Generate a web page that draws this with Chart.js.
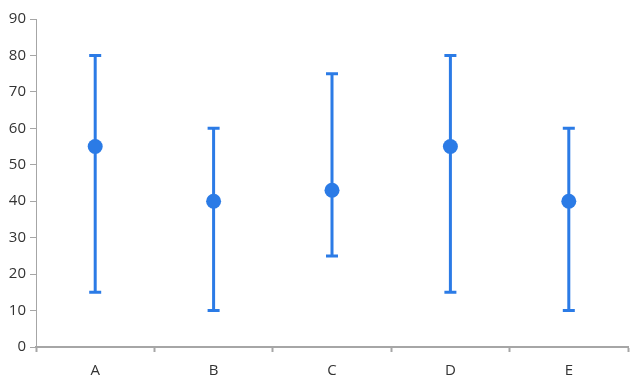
<!DOCTYPE html>
<html>
<head>
<meta charset="utf-8">
<script src="https://cdn.jsdelivr.net/npm/chart.js@4/dist/chart.umd.min.js"></script>
<style>
html,body{margin:0;padding:0;background:#fff;}
canvas{display:block;}
</style>
</head>
<body>
<canvas id="c" width="638" height="388"></canvas>
<script>
const categories = ['A', 'B', 'C', 'D', 'E'];
const values = [55, 40, 43, 55, 40];
const lows = [15, 10, 25, 15, 10];
const highs = [80, 60, 75, 80, 60];
const yTicks = [0, 10, 20, 30, 40, 50, 60, 70, 80, 90];

const BLUE = '#2b7be6';
const AXIS = '#a6a6a6';
const TEXT = '#333333';
const FONT = "'Open Sans', 'Noto Sans', sans-serif";

const errorBars = {
  id: 'errorBars',
  beforeDatasetsDraw(chart) {
    const ctx = chart.ctx;
    const x = chart.scales.x, y = chart.scales.y;
    ctx.save();
    ctx.strokeStyle = BLUE;
    ctx.lineWidth = 3;
    ctx.lineCap = 'butt';
    categories.forEach((c, i) => {
      const px = x.getPixelForValue(i);
      const yl = y.getPixelForValue(lows[i]);
      const yh = y.getPixelForValue(highs[i]);
      ctx.beginPath();
      ctx.moveTo(px, yl); ctx.lineTo(px, yh);
      ctx.moveTo(px - 6, yh); ctx.lineTo(px + 6, yh);
      ctx.moveTo(px - 6, yl); ctx.lineTo(px + 6, yl);
      ctx.stroke();
    });
    ctx.restore();
  }
};

new Chart(document.getElementById('c'), {
  type: 'line',
  data: {
    labels: categories,
    datasets: [{
      data: values,
      showLine: false,
      pointRadius: 7.5,
      pointHoverRadius: 7.5,
      pointBackgroundColor: BLUE,
      pointBorderColor: BLUE,
      pointBorderWidth: 0
    }]
  },
  options: {
    responsive: false,
    animation: false,
    layout: { padding: { top: 19, right: 10, left: 0, bottom: 2 } },
    plugins: { legend: { display: false }, tooltip: { enabled: false } },
    scales: {
      x: {
        offset: true,
        afterFit(axis) { axis.height = 39; },
        grid: { offset: true, drawOnChartArea: false, drawTicks: true, tickLength: 5, tickColor: AXIS, tickWidth: 2 },
        border: { color: AXIS, width: 2 },
        ticks: { color: TEXT, padding: 10, font: { family: FONT, size: 15 } }
      },
      y: {
        min: 0, max: 90,
        afterBuildTicks(axis) { axis.ticks = yTicks.map(v => ({ value: v })); },
        afterFit(axis) { axis.width = 36; },
        grid: { drawOnChartArea: false, drawTicks: true, tickLength: 6, tickColor: AXIS, tickWidth: 1 },
        border: { color: AXIS, width: 1 },
        ticks: { color: TEXT, padding: 4, font: { family: FONT, size: 15 } }
      }
    }
  },
  plugins: [errorBars]
});
</script>
</body>
</html>
